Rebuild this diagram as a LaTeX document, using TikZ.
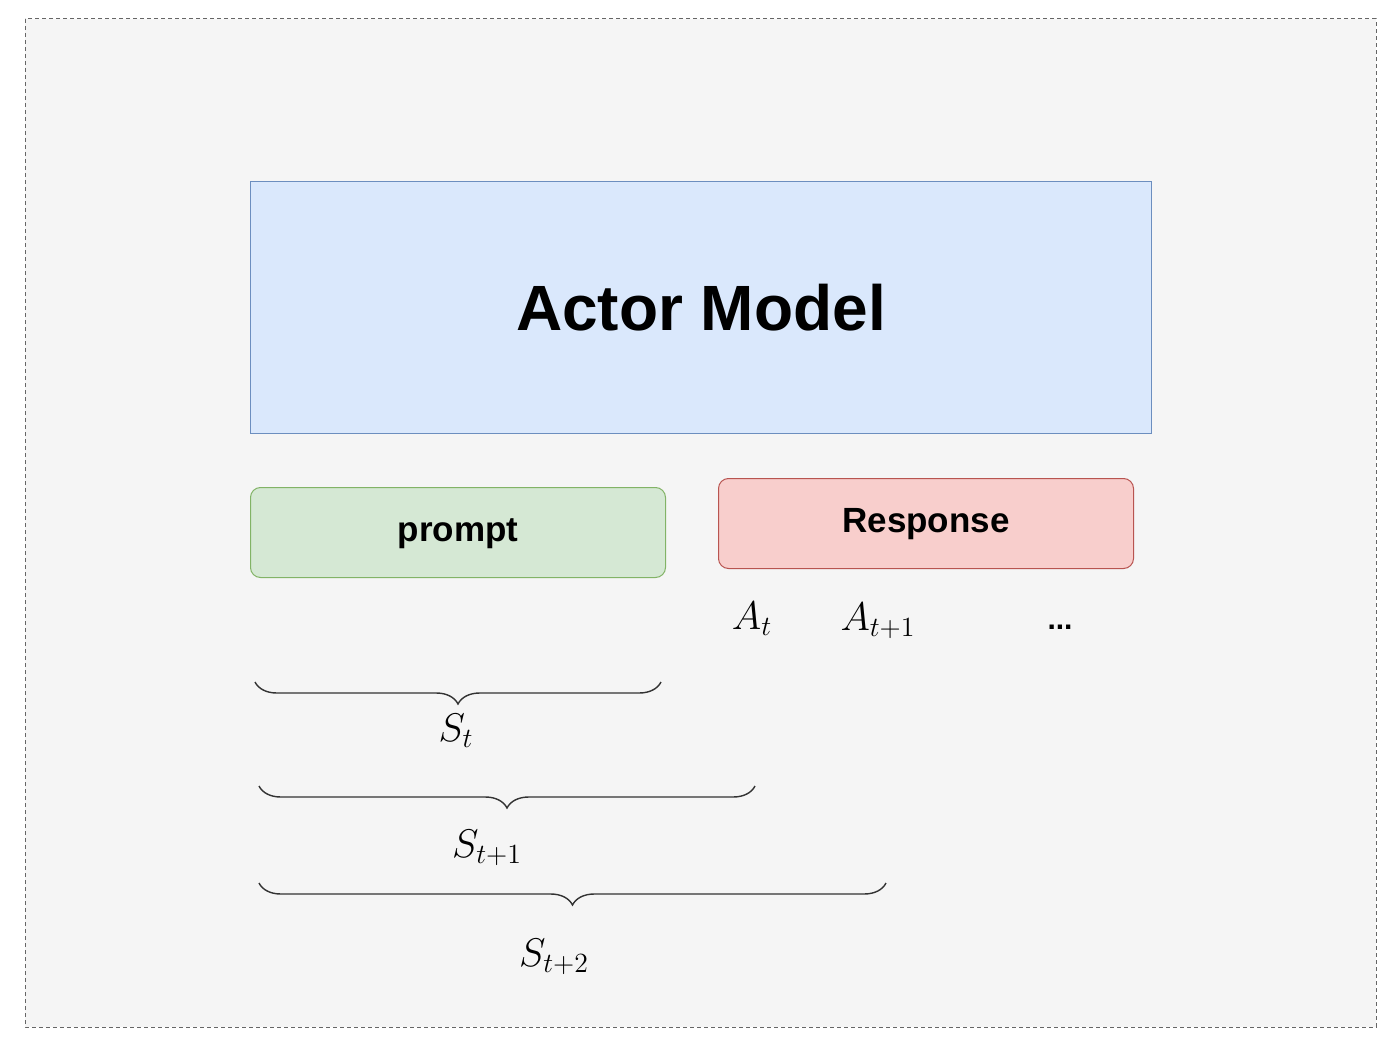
\documentclass[tikz,border=0pt]{standalone}
\usepackage{fontspec}
\newfontfamily\hv{Liberation Sans}
\usetikzlibrary{decorations.pathreplacing}
\definecolor{bgfill}{HTML}{F5F5F5}
\definecolor{bgline}{HTML}{666666}
\definecolor{blfill}{HTML}{DAE8FC}
\definecolor{blline}{HTML}{6C8EBF}
\definecolor{grfill}{HTML}{D5E8D4}
\definecolor{grline}{HTML}{82B366}
\definecolor{rdfill}{HTML}{F8CECC}
\definecolor{rdline}{HTML}{B85450}
\definecolor{brline}{HTML}{333333}
\tikzset{
  box/.style={draw, line width=1pt, inner sep=0pt, anchor=north west},
  rbox/.style={box, rounded corners=10pt},
  lbl/.style={font=\hv\bfseries\fontsize{35}{40}\selectfont, inner sep=0pt},
  mathlbl/.style={font=\huge, scale=1.93, inner sep=0pt},
  bracestyle/.style={draw=brline, line width=1.4pt, decorate, decoration={brace, mirror, amplitude=22pt, aspect=0.5}}
}
\begin{document}
\begin{tikzpicture}[x=1pt, y=-1pt]
\useasboundingbox (0,0) rectangle (1398,1046);
\fill[white] (0,0) rectangle (1398,1046);
\draw[fill=bgfill, draw=bgline, dash pattern=on 4pt off 3pt, line width=1pt] (25,19) rectangle (1376,1027);

\node[box, fill=blfill, draw=blline, minimum width=901pt, minimum height=252pt,
  font=\hv\bfseries\fontsize{64}{70}\selectfont] (actor) at (250,181) {Actor Model};
\node[rbox, fill=grfill, draw=grline, minimum width=415pt, minimum height=90pt] (prompt) at (250,487) {};
\node[lbl] (ptext) at ([yshift=-1pt]prompt.center) {prompt};
\node[rbox, fill=rdfill, draw=rdline, minimum width=415pt, minimum height=90pt] (resp) at (718,478) {};
\node[lbl] (rtext) at ([yshift=-1pt]resp.center) {Response};

\node[mathlbl] (at) at (752,619) {$A_t$};
\node[mathlbl] (at1) at (878,621) {$A_{t+1}$};
\node[font=\hv\bfseries\fontsize{30}{34}\selectfont, inner sep=0pt] (dots) at (1060,627) {...};

\coordinate (b1l) at (255,682);
\coordinate (b1r) at (661,682);
\coordinate (b2l) at (259,786);
\coordinate (b2r) at (755,786);
\coordinate (b3l) at (259,883);
\coordinate (b3r) at (886,883);
\draw[bracestyle] (b1l) -- (b1r);
\draw[bracestyle] (b2l) -- (b2r);
\draw[bracestyle] (b3l) -- (b3r);

\node[mathlbl] (st) at (456,731) {$S_t$};
\node[mathlbl] (st1) at (487,848) {$S_{t+1}$};
\node[mathlbl] (st2) at (554,957) {$S_{t+2}$};
\end{tikzpicture}
\end{document}
